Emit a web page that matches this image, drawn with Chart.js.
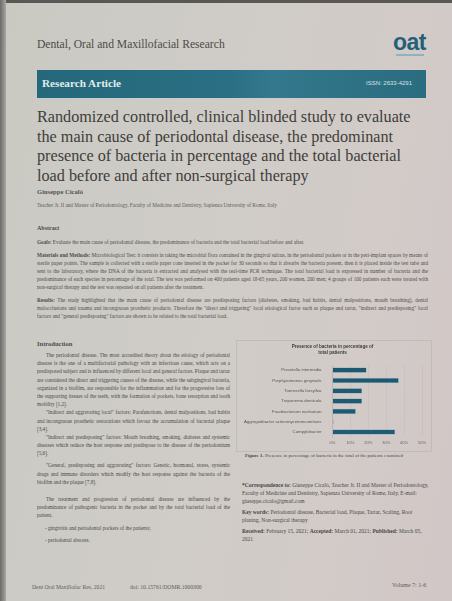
<!DOCTYPE html>
<html>
<head>
<meta charset="utf-8">
<title>Dental, Oral and Maxillofacial Research</title>
<script src="https://cdn.jsdelivr.net/npm/chart.js@4"></script>
<style>
  html, body { margin: 0; padding: 0; }
  body { width: 452px; height: 601px; overflow: hidden; background: #c8c4c0; }
  #page {
    position: relative; width: 452px; height: 601px; overflow: hidden;
    background: linear-gradient(100deg, #c9c9c2 0%, #cfccc7 40%, #d2cbc8 75%, #d1c7c6 100%);
    font-family: "Liberation Serif", "DejaVu Serif", serif;
    color: #555;
    filter: blur(0.45px);
  }
  #edge-top { position: absolute; left: 0; top: 0; width: 452px; height: 3px; background: #5a5856; }
  #edge-left { position: absolute; left: 0; top: 0; width: 6px; height: 601px; background: linear-gradient(90deg, #6c6a68, #a9a7a3); }
  .abs { position: absolute; }
  #journal { left: 37px; top: 38px; font-size: 11.6px; color: #4d4b49; white-space: nowrap; }
  #logo { left: 393px; top: 29px; font-family: "Liberation Sans", Arial, sans-serif; font-weight: bold; font-size: 23px; color: #23607a; letter-spacing: -0.5px; }
  #logo-sub { left: 396px; top: 54px; width: 28px; height: 2px; background: #8fb2c0; }
  #band { left: 37px; top: 70px; width: 389px; height: 28px; background: linear-gradient(90deg, #25687c, #2a6f83 50%, #33788c 60%, #2a6c80); }
  #band-left { left: 42px; top: 77px; font-size: 11.2px; font-weight: bold; color: #e2ece9; white-space: nowrap; }
  #band-right { left: 366px; top: 80px; font-family: "Liberation Sans", Arial, sans-serif; font-size: 6px; color: #d6e3e2; white-space: nowrap; }
  #title { left: 37px; top: 108px; font-size: 16.2px; line-height: 19.5px; color: #403e3b; white-space: nowrap; }
  .small { font-size: 5.2px; line-height: 8.2px; text-align: justify; }
  #author { left: 37px; top: 188px; font-size: 6.6px; font-weight: bold; color: #555; white-space: nowrap; }
  #affil { left: 37px; top: 202px; font-size: 5.2px; color: #5e5c5a; white-space: nowrap; }
  #abs-head { left: 37px; top: 225px; font-size: 6px; font-weight: bold; color: #4d4b49; }
  #abstract { left: 37px; top: 238px; width: 391px; color: #4e4c4a; }
  #abstract p { margin: 0 0 4.4px 0; }
  #intro-head { left: 37px; top: 340px; font-size: 6.5px; font-weight: bold; color: #4d4b49; }
  #intro { left: 37px; top: 351px; width: 193px; color: #4a4846; }
  #intro p { margin: 0; text-indent: 9px; }
  #intro p.p4 { margin-top: 3.8px; }
  #intro p.p5 { margin-top: 8.7px; }
  #intro p.l1 { text-indent: 0; padding-left: 8px; margin-top: 4.8px; }
  #intro p.l2 { text-indent: 0; padding-left: 8px; margin-top: 3.8px; }
  #chart-box { left: 236px; top: 340px; width: 194px; height: 110px; border: 0.6px solid #c0bcb8; }
  #chart { display: block; width: 194px; height: 110px; }
  #caption { left: 245px; top: 453px; width: 184px; font-size: 4.9px; color: #4a4846; white-space: nowrap; }
  #side { left: 242px; top: 481px; width: 188px; color: #4a4846; font-size: 5.5px; line-height: 8.2px; }
  #side p { margin: 0 0 2.6px 0; }
  #foot-l { left: 32px; top: 584px; font-size: 5.7px; color: #5e5c5a; white-space: nowrap; }
  #foot-m { left: 130px; top: 584px; font-size: 5.7px; color: #5e5c5a; white-space: nowrap; }
  #foot-r { left: 392px; top: 582px; font-size: 6px; color: #5e5c5a; white-space: nowrap; }
</style>
</head>
<body>
<div id="page">
  <div id="edge-top"></div>
  <div id="edge-left"></div>

  <div class="abs" id="journal">Dental, Oral and Maxillofacial Research</div>
  <div class="abs" id="logo">oat</div>
  <div class="abs" id="logo-sub"></div>

  <div class="abs" id="band"></div>
  <div class="abs" id="band-left">Research Article</div>
  <div class="abs" id="band-right">ISSN: 2633-4291</div>

  <div class="abs" id="title">Randomized controlled, clinical blinded study to evaluate<br>the main cause of periodontal disease, the predominant<br>presence of bacteria in percentage and the total bacterial<br>load before and after non-surgical therapy</div>

  <div class="abs" id="author">Giuseppe Cicalò</div>
  <div class="abs" id="affil">Teacher Jr. II and Master of Periodontology, Faculty of Medicine and Dentistry, Sapienza University of Rome, Italy</div>

  <div class="abs" id="abs-head">Abstract</div>
  <div class="abs small" id="abstract">
    <p><b>Goals:</b> Evaluate the main cause of periodontal disease, the predominance of bacteria and the total bacterial load before and after.</p>
    <p><b>Materials and Methods:</b> Microbiological Test: it consists in taking the microbial flora contained in the gingival sulcus, in the periodontal pockets or in the peri-implant spaces by means of sterile paper points. The sample is collected with a sterile paper cone inserted in the pocket for 30 seconds so that it absorbs the bacteria present, then it is placed inside the test tube and sent to the laboratory, where the DNA of the bacteria is extracted and analysed with the real-time PCR technique. The total bacterial load is expressed in number of bacteria and the predominance of each species in percentage of the total. The test was performed on 400 patients aged 18-65 years, 200 women, 200 men; 4 groups of 100 patients each were treated with non-surgical therapy and the test was repeated on all patients after the treatment.</p>
    <p><b>Results:</b> The study highlighted that the main cause of periodontal disease are predisposing factors (diabetes, smoking, bad habits, dental malpositions, mouth breathing), dental malocclusions and trauma and incongruous prosthetic products. Therefore the "direct and triggering" local etiological factor such as plaque and tartar, "indirect and predisposing" local factors and "general predisposing" factors are shown to be related to the total bacterial load.</p>
  </div>

  <div class="abs" id="intro-head">Introduction</div>
  <div class="abs small" id="intro">
    <p>The periodontal disease. The most accredited theory about the etiology of periodontal disease is the one of a multifactorial pathology with an infectious cause, which acts on a predisposed subject and is influenced by different local and general factors. Plaque and tartar are considered the direct and triggering causes of the disease, while the subgingival bacteria, organized in a biofilm, are responsible for the inflammation and for the progressive loss of the supporting tissues of the teeth, with the formation of pockets, bone resorption and tooth mobility [1,2].</p>
    <p>"Indirect and aggravating local" factors: Parafunctions, dental malpositions, bad habits and incongruous prosthetic restorations which favour the accumulation of bacterial plaque [3,4].</p>
    <p>"Indirect and predisposing" factors: Mouth breathing, smoking, diabetes and systemic diseases which reduce the host response and predispose to the disease of the periodontium [5,6].</p>
    <p class="p4">"General, predisposing and aggravating" factors: Genetic, hormonal, stress, systemic drugs and immune disorders which modify the host response against the bacteria of the biofilm and the plaque [7,8].</p>
    <p class="p5">The treatment and progression of periodontal disease are influenced by the predominance of pathogenic bacteria in the pocket and by the total bacterial load of the patient.</p>
    <p class="l1">- gingivitis and periodontal pockets of the patients;</p>
    <p class="l2">- periodontal abscess.</p>
  </div>

  <div class="abs" id="chart-box"><canvas id="chart" width="194" height="110"></canvas></div>
  <div class="abs" id="caption"><b>Figure 1.</b> Presence in percentage of bacteria in the total of the patients examined</div>

  <div class="abs" id="side">
    <p><b>*Correspondence to:</b> Giuseppe Cicalò, Teacher Jr. II and Master of Periodontology, Faculty of Medicine and Dentistry, Sapienza University of Rome, Italy, E-mail: giuseppe.cicalo@gmail.com</p>
    <p><b>Key words:</b> Periodontal disease, Bacterial load, Plaque, Tartar, Scaling, Root planing, Non-surgical therapy</p>
    <p><b>Received:</b> February 15, 2021; <b>Accepted:</b> March 01, 2021; <b>Published:</b> March 05, 2021</p>
  </div>

  <div class="abs" id="foot-l">Dent Oral Maxillofac Res, 2021</div>
  <div class="abs" id="foot-m">doi: 10.15761/DOMR.1000300</div>
  <div class="abs" id="foot-r">Volume 7: 1-6</div>
</div>

<script>
const categories = [
  'Prevotella intermedia',
  'Porphyromonas gingivalis',
  'Tannerella forsythia',
  'Treponema denticola',
  'Fusobacterium nucleatum',
  'Aggregatibacter actinomycetemcomitans',
  'Campylobacter'
];
const percentValues = [19, 37, 16.5, 16.5, 13, 0.6, 35];
const xTickLabels = ['0%', '10%', '20%', '30%', '40%', '50%'];
const chartTitle = ['Presence of bacteria in percentage of', 'total patients'];

const ctx = document.getElementById('chart').getContext('2d');

const gradient = ctx.createLinearGradient(0, 0, 0, 110);
gradient.addColorStop(0, '#1b566e');
gradient.addColorStop(1, '#205e76');

new Chart(ctx, {
  type: 'bar',
  data: {
    labels: categories,
    datasets: [{
      label: 'Percentage',
      data: percentValues,
      backgroundColor: gradient,
      borderColor: '#6a9db0',
      borderWidth: 0.5,
      barPercentage: 0.5,
      categoryPercentage: 1
    }]
  },
  options: {
    indexAxis: 'y',
    responsive: false,
    animation: false,
    layout: { padding: { left: 6, right: 9, top: 1, bottom: 3 } },
    plugins: {
      legend: { display: false },
      tooltip: { enabled: false },
      title: {
        display: true,
        text: chartTitle,
        color: '#3f3d3b',
        font: { size: 4.6, family: 'Liberation Sans', weight: 'bold' },
        padding: { top: 2, bottom: 10 }
      }
    },
    scales: {
      x: {
        min: 0,
        max: 50,
        ticks: {
          stepSize: 10,
          color: '#666',
          font: { size: 4, family: 'Liberation Sans' },
          padding: 3,
          callback: (v, i) => xTickLabels[i]
        },
        grid: { color: 'rgba(190,150,145,0.35)', lineWidth: 0.5, drawTicks: false },
        border: { display: false }
      },
      y: {
        ticks: {
          color: '#555',
          font: { size: 4.3, family: 'Liberation Sans' },
          padding: 3
        },
        grid: { display: false },
        border: { color: '#aaa', width: 0.5 }
      }
    }
  }
});
</script>
</body>
</html>
